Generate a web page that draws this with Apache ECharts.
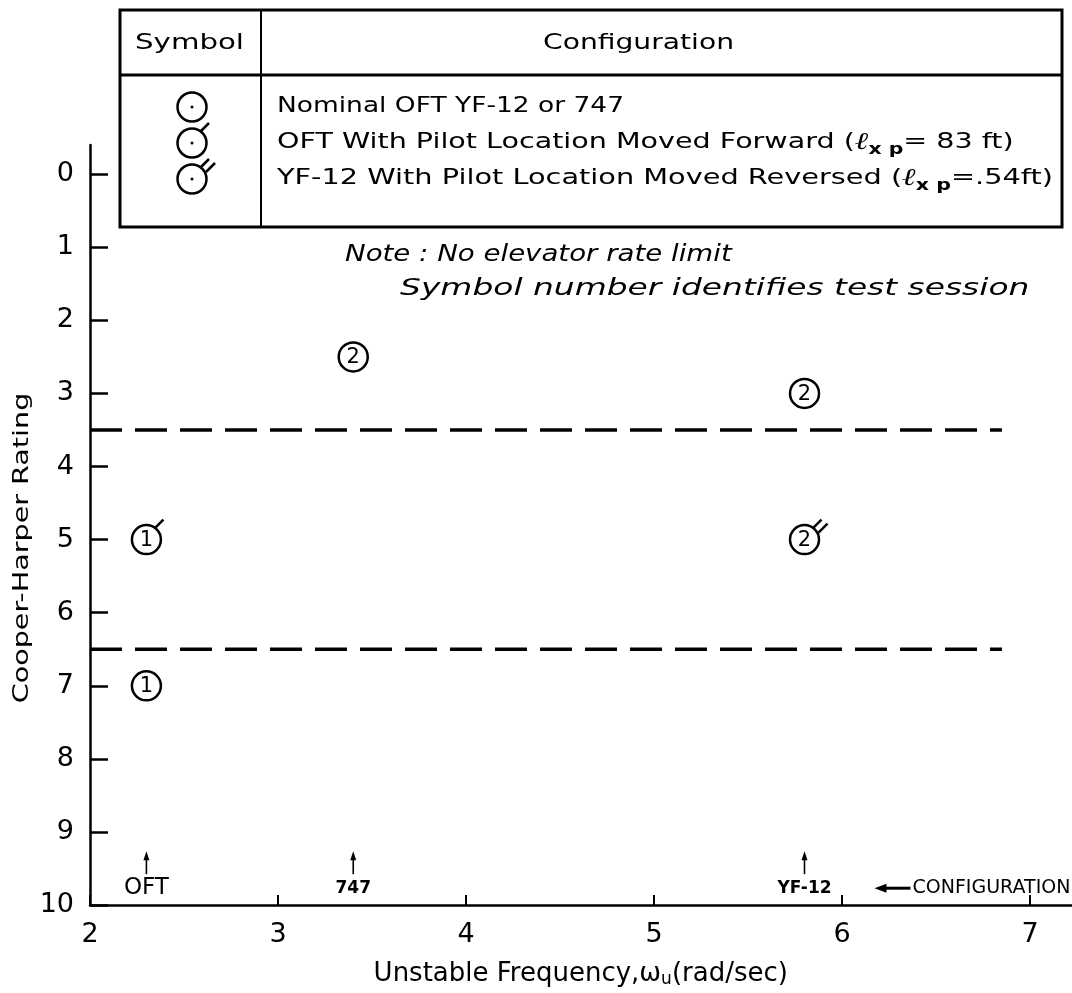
<!DOCTYPE html>
<html>
<head>
<meta charset="utf-8">
<script src="https://cdn.jsdelivr.net/npm/echarts@6/dist/echarts.min.js"></script>
<style>
html,body{margin:0;padding:0;background:#fff;}
#chart{width:1072px;height:993px;}
</style>
</head>
<body>
<div id="chart"></div>
<script>
// ---- data ----
const xTicks = [2, 3, 4, 5, 6, 7];
const yTicks = [0, 1, 2, 3, 4, 5, 6, 7, 8, 9, 10];
const sessionX = [2.3, 2.3, 3.4, 5.8, 5.8];
const sessionY = [5.0, 7.0, 2.5, 3.0, 5.0];
const sessionNum = ['1', '1', '2', '2', '2'];
const sessionFlags = [1, 0, 0, 0, 2]; // 0 nominal, 1 pilot forward, 2 pilot reversed
const boundaryY = [3.5, 6.5];
const boundaryX = [2, 6.85];
const configNames = ['OFT', '747', 'YF-12'];
const configX = [2.3, 3.4, 5.8];
const configY = 9.77;
const legendRows = [
  'Nominal OFT YF-12 or 747',
  'OFT With Pilot Location Moved Forward ({l|ℓ}{s|x p}{t|= 83 ft)}',
  'YF-12 With Pilot Location Moved Reversed ({l|ℓ}{s|x p}{t|=.54ft)}'
];

const FONT = '"DejaVu Sans", sans-serif';
const chart = echarts.init(document.getElementById('chart'), null, {renderer: 'canvas'});

function flagEls(cx, cy, n, z) {
  const out = [];
  for (let k = 0; k < n; k++) {
    const dx = k * 6, dy = k * 4;
    const el = {
      type: 'line',
      shape: {x1: cx + 8 + dx, y1: cy - 11 + dy, x2: cx + 17 + dx, y2: cy - 20 + dy},
      style: {stroke: '#000', lineWidth: 2.5}
    };
    if (z != null) el.z = z;
    out.push(el);
  }
  return out;
}

function symbolEls(cx, cy, label, nFlags, z) {
  const els = [{
    type: 'circle',
    shape: {cx: cx, cy: cy, r: 14.5},
    style: {fill: '#fff', stroke: '#000', lineWidth: 2.5}
  }];
  if (label) {
    els.push({
      type: 'text',
      style: {x: cx, y: cy + 1, text: label, align: 'center', verticalAlign: 'middle',
        font: '21px ' + FONT, fill: '#000'}
    });
  } else {
    els.push({type: 'circle', shape: {cx: cx, cy: cy, r: 1.5}, style: {fill: '#000'}});
  }
  const all = els.concat(flagEls(cx, cy, nFlags, z));
  if (z != null) all.forEach(function (e) { e.z = z; });
  return all;
}

function wideText(x, y, text, font, sx, extra) {
  const st = {x: 0, y: 0, text: text, align: 'left', verticalAlign: 'middle', font: font, fill: '#000'};
  if (extra) Object.assign(st, extra);
  return {type: 'text', z: 12, x: x, y: y, scaleX: sx, scaleY: 1, style: st};
}

const legendGraphics = [];
// table frame
legendGraphics.push({type: 'rect', shape: {x: 120, y: 10, width: 942, height: 217},
  style: {fill: '#fff', stroke: '#000', lineWidth: 3}, z: 10});
legendGraphics.push({type: 'line', shape: {x1: 120, y1: 75, x2: 1062, y2: 75},
  style: {stroke: '#000', lineWidth: 3}, z: 11});
legendGraphics.push({type: 'line', shape: {x1: 261, y1: 10, x2: 261, y2: 227},
  style: {stroke: '#000', lineWidth: 2}, z: 11});
legendGraphics.push(wideText(135, 43, 'Symbol', '22px ' + FONT, 1.33));
legendGraphics.push(wideText(543, 43, 'Configuration', '22px ' + FONT, 1.28));
const legendRowY = [107, 143, 179];
const legendRowScale = [1.26, 1.36, 1.37];
legendRows.forEach(function (t, i) {
  legendGraphics.push({type: 'group', z: 12, children: symbolEls(192, legendRowY[i], null, i, 12)});
  legendGraphics.push(wideText(277, legendRowY[i], t, '21px ' + FONT, legendRowScale[i], {
    rich: {
      l: {fontSize: 24, fontStyle: 'italic', fontFamily: 'DejaVu Serif'},
      s: {fontSize: 15, fontWeight: 'bold', padding: [14, 0, 0, 0], fontFamily: 'DejaVu Sans'},
      t: {fontSize: 21, fontFamily: 'DejaVu Sans'}
    }
  }));
});
// notes
legendGraphics.push(wideText(345, 255, 'Note : No elevator rate limit', 'italic 23px ' + FONT, 1.2));
legendGraphics.push(wideText(400, 289, 'Symbol number identifies test session', 'italic 23px ' + FONT, 1.43));
// y axis title (drawn wide, rotated)
legendGraphics.push({type: 'text', z: 12, x: 22, y: 548, rotation: Math.PI / 2, scaleX: 1.3, scaleY: 1,
  style: {x: 0, y: 0, text: 'Cooper-Harper Rating', align: 'center', verticalAlign: 'middle',
    font: '22px ' + FONT, fill: '#000'}});

const option = {
  backgroundColor: '#fff',
  animation: false,
  grid: {left: 90, right: 0.5, top: 145, bottom: 82, containLabel: false},
  xAxis: {
    type: 'value', min: 2, max: 7.22,
    name: 'Unstable Frequency,{w|ω}{s|u}(rad/sec)',
    nameLocation: 'middle', nameGap: 55,
    nameTextStyle: {fontFamily: FONT, fontSize: 26, color: '#000',
      rich: {w: {fontSize: 26, fontFamily: FONT}, s: {fontSize: 17, padding: [11, 0, 0, 0], fontFamily: FONT}}},
    axisLine: {show: true, onZero: false, lineStyle: {color: '#000', width: 2.5}},
    axisTick: {show: true, inside: true, length: 10, customValues: xTicks,
      lineStyle: {color: '#000', width: 2}},
    axisLabel: {customValues: xTicks, margin: 16, fontSize: 27, fontFamily: FONT, color: '#000'},
    splitLine: {show: false}
  },
  yAxis: {
    type: 'value', inverse: true, min: -0.4, max: 10,
    axisLine: {show: true, onZero: false, lineStyle: {color: '#000', width: 2.5}},
    axisTick: {show: true, inside: true, length: 18, customValues: yTicks,
      lineStyle: {color: '#000', width: 2.5}},
    axisLabel: {customValues: yTicks, margin: 16, fontSize: 27, fontFamily: FONT, color: '#000'},
    splitLine: {show: false}
  },
  graphic: legendGraphics,
  series: boundaryY.map(function (yv) {
    return {
      type: 'line', symbol: 'none', silent: true,
      data: boundaryX.map(function (xv) { return [xv, yv]; }),
      lineStyle: {color: '#000', width: 3.5, type: [32, 13]}
    };
  }).concat([
    {
      type: 'custom', clip: false, z: 5,
      data: sessionX.map(function (xv, i) { return [xv, sessionY[i], i]; }),
      encode: {x: 0, y: 1},
      renderItem: function (params, api) {
        const p = api.coord([api.value(0), api.value(1)]);
        const i = api.value(2);
        return {type: 'group', children: symbolEls(p[0], p[1], sessionNum[i], sessionFlags[i])};
      }
    },
    {
      type: 'custom', clip: false, z: 5,
      data: configX.map(function (xv, i) { return [xv, configY, i]; }),
      encode: {x: 0, y: 1},
      renderItem: function (params, api) {
        const p = api.coord([api.value(0), api.value(1)]);
        const i = api.value(2);
        const big = i === 0;
        return {type: 'group', children: [
          {type: 'line', shape: {x1: p[0], y1: p[1] - 14, x2: p[0], y2: p[1] - 33},
            style: {stroke: '#000', lineWidth: 1.6}},
          {type: 'polygon', shape: {points: [[p[0], p[1] - 37], [p[0] - 3, p[1] - 28], [p[0] + 3, p[1] - 28]]},
            style: {fill: '#000'}},
          {type: 'text', style: {x: p[0], y: p[1], text: configNames[i], align: 'center', verticalAlign: 'middle',
            font: (big ? '23px ' : 'bold 17px ') + FONT, fill: '#000'}}
        ]};
      }
    },
    {
      type: 'custom', clip: false, z: 5,
      data: [[6.22, configY]],
      encode: {x: 0, y: 1},
      renderItem: function (params, api) {
        const p = api.coord([api.value(0), api.value(1)]);
        return {type: 'group', children: [
          {type: 'line', shape: {x1: p[0] - 2, y1: p[1], x2: p[0] + 27, y2: p[1]},
            style: {stroke: '#000', lineWidth: 3}},
          {type: 'polygon', shape: {points: [[p[0] - 9, p[1]], [p[0] + 3, p[1] - 4.5], [p[0] + 3, p[1] + 4.5]]},
            style: {fill: '#000'}},
          {type: 'text', style: {x: p[0] + 29, y: p[1], text: 'CONFIGURATION', align: 'left', verticalAlign: 'middle',
            font: '19px ' + FONT, fill: '#000'}}
        ]};
      }
    }
  ])
};
chart.setOption(option);
</script>
</body>
</html>
